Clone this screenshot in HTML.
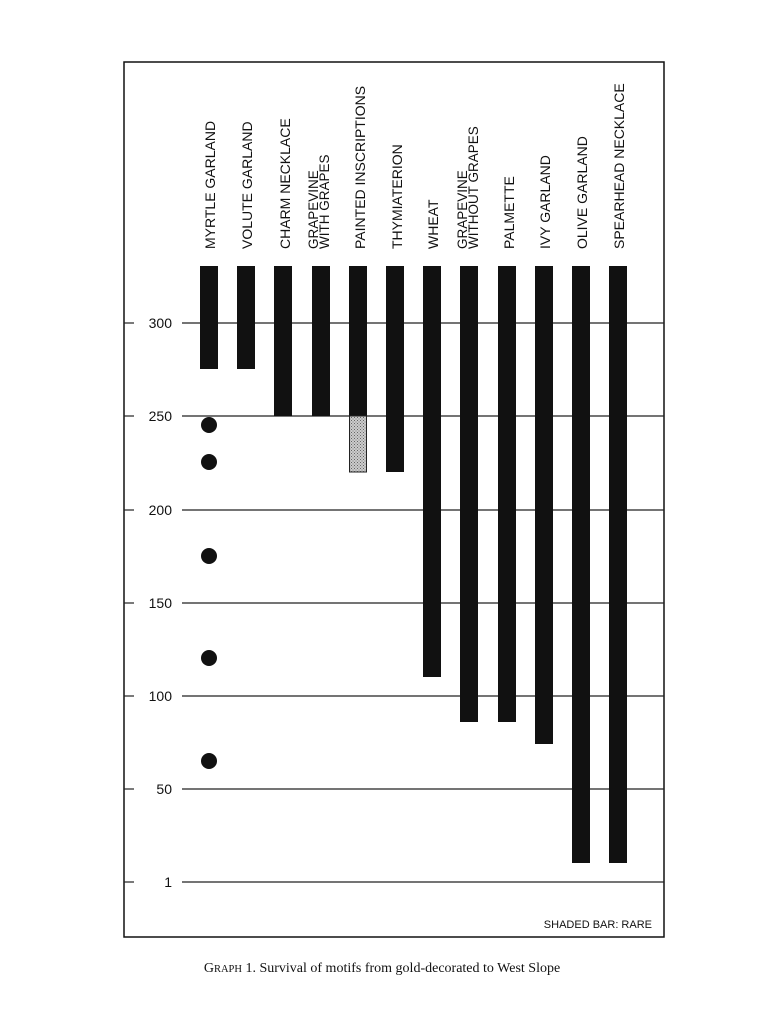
<!DOCTYPE html>
<html><head><meta charset="utf-8"><style>
body{margin:0;background:#fff;}
svg text{font-family:"Liberation Sans",Arial,sans-serif;fill:#111;}
</style></head><body>
<svg width="760" height="1024" viewBox="0 0 760 1024" xmlns="http://www.w3.org/2000/svg">
<defs><pattern id="dots" width="3" height="3" patternUnits="userSpaceOnUse"><rect width="3" height="3" fill="#ccc"/><rect width="1" height="1" fill="#666"/><rect x="1.5" y="1.5" width="1" height="1" fill="#777"/></pattern></defs>
<rect x="124" y="62" width="540" height="875" fill="none" stroke="#111" stroke-width="1.5"/>
<g stroke="#222" stroke-width="1.2">
<line x1="124" y1="323" x2="134" y2="323"/><line x1="182" y1="323" x2="664" y2="323"/>
<line x1="124" y1="416" x2="134" y2="416"/><line x1="182" y1="416" x2="664" y2="416"/>
<line x1="124" y1="510" x2="134" y2="510"/><line x1="182" y1="510" x2="664" y2="510"/>
<line x1="124" y1="603" x2="134" y2="603"/><line x1="182" y1="603" x2="664" y2="603"/>
<line x1="124" y1="696" x2="134" y2="696"/><line x1="182" y1="696" x2="664" y2="696"/>
<line x1="124" y1="789" x2="134" y2="789"/><line x1="182" y1="789" x2="664" y2="789"/>
<line x1="124" y1="882" x2="134" y2="882"/><line x1="182" y1="882" x2="664" y2="882"/>
</g>
<g font-size="14" text-anchor="end">
<text x="172" y="328">300</text><text x="172" y="421">250</text><text x="172" y="515">200</text>
<text x="172" y="608">150</text><text x="172" y="701">100</text><text x="172" y="794">50</text><text x="172" y="887">1</text>
</g>
<g fill="#111">
<rect x="200" y="266" width="18" height="103"/>
<rect x="237" y="266" width="18" height="103"/>
<rect x="274" y="266" width="18" height="150"/>
<rect x="312" y="266" width="18" height="150"/>
<rect x="349" y="266" width="18" height="150"/>
<rect x="386" y="266" width="18" height="206"/>
<rect x="423" y="266" width="18" height="411"/>
<rect x="460" y="266" width="18" height="456"/>
<rect x="498" y="266" width="18" height="456"/>
<rect x="535" y="266" width="18" height="478"/>
<rect x="572" y="266" width="18" height="597"/>
<rect x="609" y="266" width="18" height="597"/>
<circle cx="209" cy="425" r="8"/><circle cx="209" cy="462" r="8"/><circle cx="209" cy="556" r="8"/>
<circle cx="209" cy="658" r="8"/><circle cx="209" cy="761" r="8"/>
</g>
<rect x="349.5" y="416" width="17" height="56" fill="url(#dots)" stroke="#222" stroke-width="1"/>
<g font-size="14">
<text transform="translate(215,249) rotate(-90)">MYRTLE GARLAND</text>
<text transform="translate(252,249) rotate(-90)">VOLUTE GARLAND</text>
<text transform="translate(290,249) rotate(-90)">CHARM NECKLACE</text>
<text transform="translate(318,249) rotate(-90)" font-size="13.5">GRAPEVINE</text>
<text transform="translate(329,249) rotate(-90)" font-size="13.5">WITH GRAPES</text>
<text transform="translate(365,249) rotate(-90)">PAINTED INSCRIPTIONS</text>
<text transform="translate(402,249) rotate(-90)">THYMIATERION</text>
<text transform="translate(438,249) rotate(-90)">WHEAT</text>
<text transform="translate(467,249) rotate(-90)" font-size="13.5">GRAPEVINE</text>
<text transform="translate(478,249) rotate(-90)" font-size="13.5">WITHOUT GRAPES</text>
<text transform="translate(514,249) rotate(-90)">PALMETTE</text>
<text transform="translate(550,249) rotate(-90)">IVY GARLAND</text>
<text transform="translate(587,249) rotate(-90)">OLIVE GARLAND</text>
<text transform="translate(624,249) rotate(-90)">SPEARHEAD NECKLACE</text>
</g>
<text x="652" y="928" font-size="11" text-anchor="end">SHADED BAR: RARE</text>
<text x="382" y="972" text-anchor="middle" style="font-family:'Liberation Serif',serif" font-size="14">G<tspan font-size="10.5">RAPH</tspan> 1. Survival of motifs from gold-decorated to West Slope</text>
</svg>
</body></html>
